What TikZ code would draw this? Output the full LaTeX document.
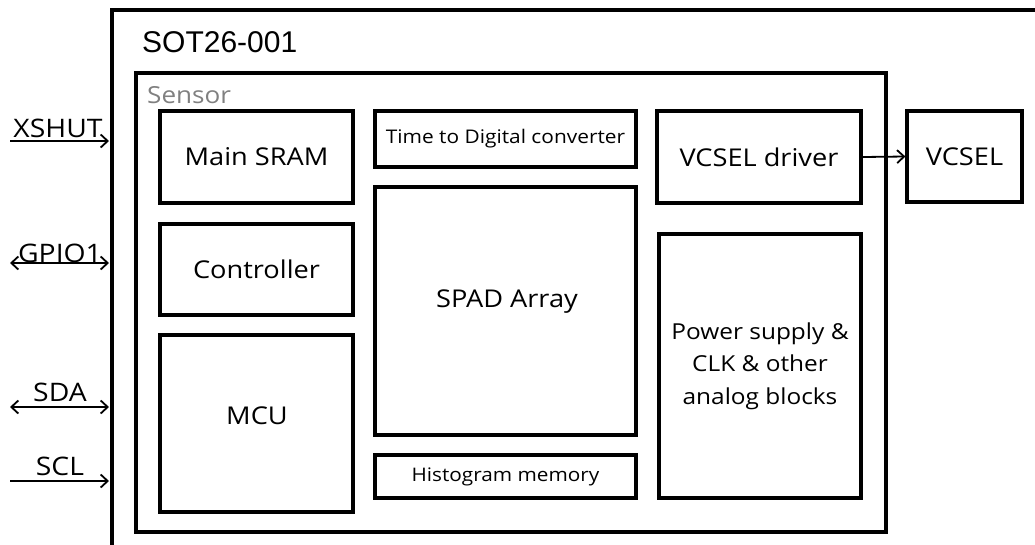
\documentclass[tikz,border=0pt]{standalone}
\usepackage{fontspec}
\setmainfont[FakeStretch=1.11]{Open Sans}
\newfontfamily\arialf{Liberation Sans}
\usetikzlibrary{arrows.meta}
\begin{document}
\begin{tikzpicture}[x=1pt,y=-1pt,
  blk/.style={draw=black,line width=3.2pt,inner sep=0pt,font=\fontsize{24.5}{28}\selectfont,align=center},
  txt/.style={inner sep=0pt,font=\fontsize{24.5}{28}\selectfont,align=center},
  pin/.style={line width=1.8pt},
  tip/.style={-{Straight Barb[length=7pt,width=13pt,line width=1.8pt]}},
  dtip/.style={{Straight Barb[length=7pt,width=13pt,line width=1.8pt]}-{Straight Barb[length=7pt,width=13pt,line width=1.8pt]}},
  lbl/.style={anchor=south,inner sep=1pt,font=\fontsize{25.5}{28}\selectfont}]
\useasboundingbox (0,0) rectangle (1035,544);
\clip (0,0) rectangle (1035,544);
% outer package box (clipped at right and bottom)
\draw[line width=3.2pt] (1045,10) -- (112,10) -- (112,560);
\node[anchor=west,font=\arialf\fontsize{30}{34}\selectfont,inner sep=0pt] (pkg) at (142,42) {SOT26-001};
% sensor box
\draw[line width=3.2pt] (136,73) rectangle (886,532);
\node[anchor=west,font=\fontsize{23.5}{26}\selectfont,text=black!50,inner sep=0pt] (sens) at (147,95) {Sensor};
% blocks
\node[blk,minimum width=193pt,minimum height=92pt] (sram) at (256.5,157) {Main SRAM};
\node[blk,minimum width=193pt,minimum height=91pt] (ctrl) at (256.5,269.5) {Controller};
\node[blk,minimum width=193pt,minimum height=177pt] (mcu) at (256.5,423.5) {};
\node[txt] (mcut) at (257,416) {MCU};
\node[blk,minimum width=261pt,minimum height=56pt,font=\fontsize{18.8}{21}\selectfont] (tdc) at (505.5,139) {Time to Digital converter};
\node[blk,minimum width=261pt,minimum height=248pt] (spad) at (505.5,311) {};
\node[txt] (spadt) at (507,302) {SPAD Array};
\node[blk,minimum width=261pt,minimum height=43pt,font=\fontsize{18.7}{21}\selectfont] (hist) at (505.5,476.5) {Histogram memory};
\node[blk,minimum width=204pt,minimum height=92pt] (drv) at (759,157) {VCSEL driver};
\node[blk,minimum width=202pt,minimum height=264pt,font=\fontsize{22}{32.5}\selectfont] (pwr) at (760,366) {Power supply \&\\CLK \& other\\analog blocks};
\node[blk,minimum width=115pt,minimum height=91pt] (vcsel) at (964.5,156.5) {VCSEL};
\draw[pin,tip] (drv.east) -- (vcsel.west);
% pins
\coordinate (x0) at (10,141); \coordinate (x1) at (109,141);
\coordinate (g0) at (10,263); \coordinate (g1) at (109,263);
\coordinate (s0) at (10,407); \coordinate (s1) at (109,407);
\coordinate (c0) at (10,481); \coordinate (c1) at (109,481);
\draw[pin,tip] (x0) -- (x1);
\draw[pin,dtip] (g0) -- (g1);
\draw[pin,dtip] (s0) -- (s1);
\draw[pin,tip] (c0) -- (c1);
\node[lbl] (lx) at (58,139) {XSHUT};
\node[lbl] (lg) at (60,264) {GPIO1};
\node[lbl] (ls) at (60,403) {SDA};
\node[lbl] (lc) at (60,477) {SCL};
\end{tikzpicture}
\end{document}
